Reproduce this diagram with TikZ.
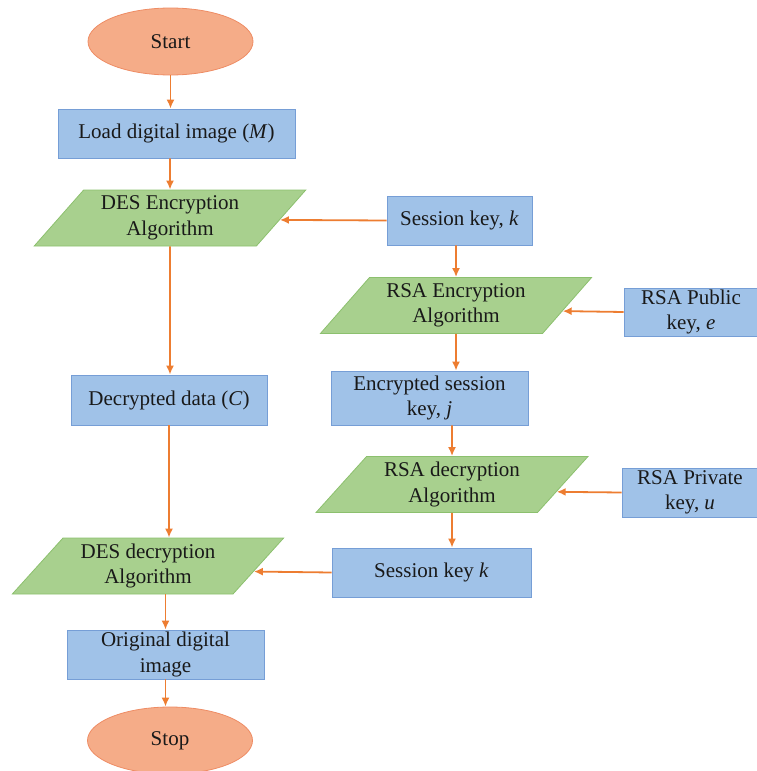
\documentclass[tikz,border=0pt]{standalone}
\usepackage{fontspec}
\setmainfont{Liberation Serif}
\usetikzlibrary{
    arrows.meta,      % For arrow tips
    shapes.geometric, % For ellipse and trapezium (parallelogram) nodes
    positioning       % For node placement
}

% Colours of the flowchart
\definecolor{boxfill}{RGB}{160,194,232}
\definecolor{boxborder}{RGB}{118,158,214}
\definecolor{parafill}{RGB}{168,208,142}
\definecolor{paraborder}{RGB}{140,192,110}
\definecolor{ovalfill}{RGB}{245,172,136}
\definecolor{ovalborder}{RGB}{238,140,100}
\definecolor{arroworange}{RGB}{237,125,49}

\begin{document}
\begin{tikzpicture}[
    x=1pt, y=-1pt, % Pixel-like units, y pointing down
    >={Latex[length=9pt,width=8pt]}, % Default arrow tip
    flow/.style={->, line width=1.8pt, draw=arroworange}, % Connectors
    terminal/.style={ellipse, draw=ovalborder, fill=ovalfill, line width=0.8pt,
        minimum width=165pt, minimum height=67pt, inner sep=0pt}, % Start / Stop
    process/.style={rectangle, draw=boxborder, fill=boxfill, line width=0.8pt,
        inner sep=0pt, align=center}, % Blue boxes
    algo/.style={trapezium, trapezium left angle=48, trapezium right angle=132,
        trapezium stretches=true, draw=paraborder, fill=parafill, line width=0.8pt,
        minimum width=272pt, minimum height=56pt, inner sep=0pt, align=center}, % Green parallelograms
    every node/.style={font=\fontsize{21}{25.5}\selectfont, text=black!90}
]
    \useasboundingbox (0,0) rectangle (757,771);

    % Left column
    \node[terminal] (start) at (170.5,41.5) {Start};
    \node[process, minimum width=237pt, minimum height=49pt] (load) at (176.5,133.5) {Load digital image (\textit{M})};
    \node[algo] (desenc) at (170,218) {DES Encryption\\Algorithm};
    \node[process, minimum width=196pt, minimum height=50pt] (decdata) at (169,400) {Decrypted data (\textit{C})};
    \node[algo] (desdec) at (148,566) {DES decryption\\Algorithm};
    \node[process, minimum width=197pt, minimum height=49pt] (orig) at (165.5,654.5) {Original digital\\image};
    \node[terminal] (stop) at (170,740.5) {Stop};

    % Right column
    \node[process, minimum width=145pt, minimum height=49pt] (seskeyA) at (459.5,220.5) {Session key, \textit{k}};
    \node[algo] (rsaenc) at (456,305.5) {RSA Encryption\\Algorithm};
    \node[process, minimum width=197pt, minimum height=54pt] (encj) at (429.5,398) {Encrypted session\\key, \textit{j}};
    \node[algo] (rsadec) at (452,484.5) {RSA decryption\\Algorithm};
    \node[process, minimum width=199pt, minimum height=49pt] (seskeyB) at (431.5,572.5) {Session key \textit{k}};

    % Keys on the far right
    \node[process, minimum width=134pt, minimum height=48pt] (pubkey) at (691,312) {RSA Public\\key, \textit{e}};
    \node[process, minimum width=136pt, minimum height=49pt] (privkey) at (690,492.5) {RSA Private\\key, \textit{u}};

    % Main flow
    \draw[flow] (start) -- (start |- load.north);
    \draw[flow] (load.south -| desenc) -- (desenc.north);
    \draw[flow] (desenc) -- (desenc |- decdata.north);
    \draw[flow] (decdata) -- (decdata |- desdec.north);
    \draw[flow] (desdec.south -| orig) -- (orig);
    \draw[flow] (orig) -- (orig |- stop.north);

    % Key flow (angle anchors keep the side arrows level)
    \draw[flow] (seskeyA.west) -- (desenc.-1.3);
    \draw[flow] (seskeyA.south -| rsaenc) -- (rsaenc.north);
    \draw[flow] (pubkey.west) -- (rsaenc.-3.5);
    \draw[flow] (rsaenc) -- (rsaenc |- encj.north);
    \draw[flow] (encj.south -| rsadec) -- (rsadec.north);
    \draw[flow] (privkey.west) -- (rsadec.-4.4);
    \draw[flow] (rsadec) -- (rsadec |- seskeyB.north);
    \draw[flow] (seskeyB.west) -- (desdec.-3.5);

\end{tikzpicture}
\end{document}
